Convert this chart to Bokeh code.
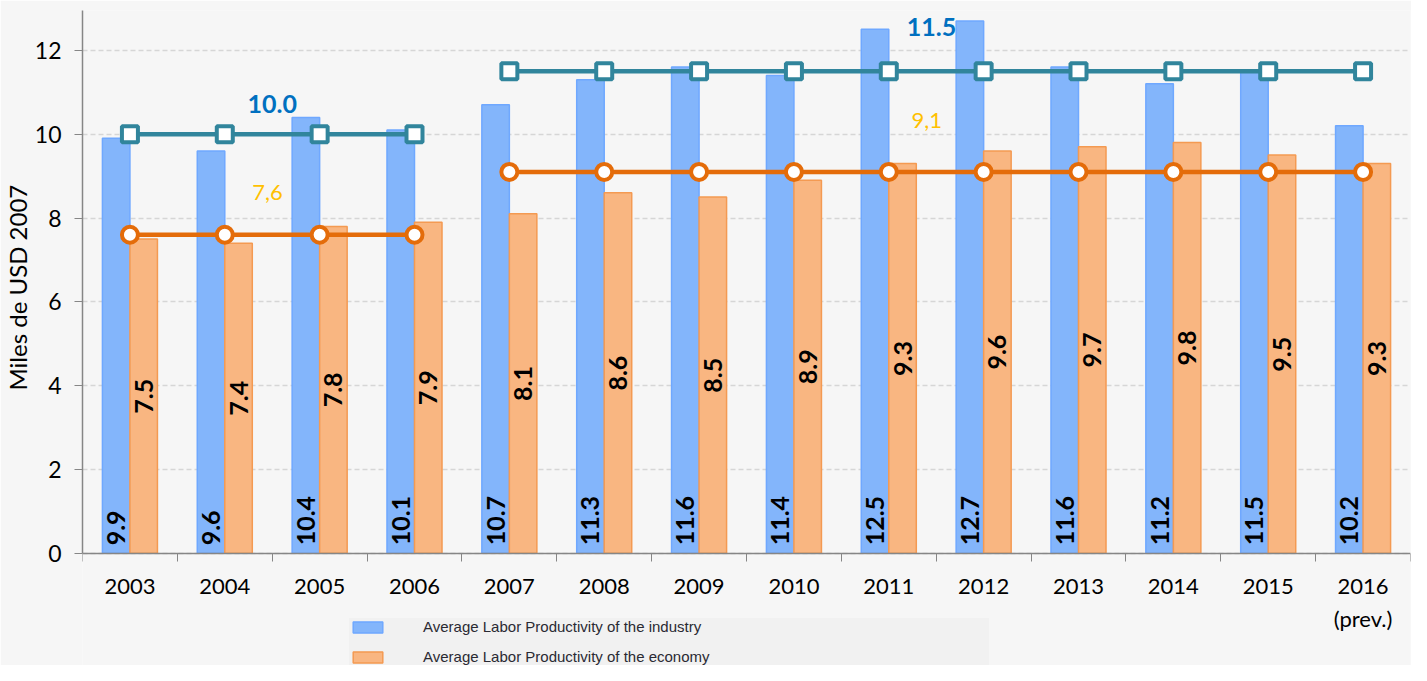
from bokeh.plotting import figure
from bokeh.models import (ColumnDataSource, FixedTicker, Legend, LegendItem, Range1d, Title)
from bokeh.core.properties import value
from bokeh.embed import file_html
from bokeh.resources import INLINE
import math

# ---------------- data ----------------
years = ["2003", "2004", "2005", "2006", "2007", "2008", "2009",
         "2010", "2011", "2012", "2013", "2014", "2015", "2016"]
year_labels = ["2003", "2004", "2005", "2006", "2007", "2008", "2009",
               "2010", "2011", "2012", "2013", "2014", "2015", "2016\n(prev.)"]
industry = [9.9, 9.6, 10.4, 10.1, 10.7, 11.3, 11.6, 11.4, 12.5, 12.7, 11.6, 11.2, 11.5, 10.2]
economy = [7.5, 7.4, 7.8, 7.9, 8.1, 8.6, 8.5, 8.9, 9.3, 9.6, 9.7, 9.8, 9.5, 9.3]

# period averages
period1_years = ["2003", "2004", "2005", "2006"]
period2_years = ["2007", "2008", "2009", "2010", "2011", "2012", "2013",
                 "2014", "2015", "2016"]
industry_avg_p1 = [10.0, 10.0, 10.0, 10.0]
industry_avg_p2 = [11.5, 11.5, 11.5, 11.5, 11.5, 11.5, 11.5, 11.5, 11.5, 11.5]
economy_avg_p1 = [7.6, 7.6, 7.6, 7.6]
economy_avg_p2 = [9.1, 9.1, 9.1, 9.1, 9.1, 9.1, 9.1, 9.1, 9.1, 9.1]
avg_labels_industry = ["10.0", "11.5"]
avg_labels_economy = ["7,6", "9,1"]

series_names = ["Average Labor Productivity of the industry",
                "Average Labor Productivity of the economy"]
y_title = "Miles de USD 2007"

# ---------------- layout helpers ----------------
idx = {y: i for i, y in enumerate(years)}
xs = list(range(len(years)))
off = 0.145
bw = 0.29
Y_TOP = 12.95
Y_BOTTOM = -2.675   # space under the axis for tick labels and legend

TEAL = "#31859C"
ORANGE = "#E46C0A"
FONT = "Lato"

p = figure(width=1411, height=665, output_backend="svg", toolbar_location=None,
           x_range=Range1d(-0.5, 13.5), y_range=Range1d(Y_BOTTOM, Y_TOP),
           min_border_left=82, min_border_right=1, min_border_top=10,
           min_border_bottom=0)
p.background_fill_color = "#F6F6F6"
p.border_fill_color = "#F6F6F6"
p.outline_line_color = None

# bars
src_i = ColumnDataSource(dict(x=[i - off for i in xs], top=industry,
                              lab=[f"{v:.1f}" for v in industry]))
src_e = ColumnDataSource(dict(x=[i + off for i in xs], top=economy,
                              mid=[v / 2 for v in economy],
                              lab=[f"{v:.1f}" for v in economy]))

r_ind = p.vbar(x="x", top="top", bottom=0, width=bw, source=src_i,
               fill_color="#83B5FB", line_color="#6FA8FF", line_width=1.5)
r_eco = p.vbar(x="x", top="top", bottom=0, width=bw, source=src_e,
               fill_color="#F9B681", line_color="#F49A52", line_width=1.5)

# bar value labels (rotated)
p.text(x="x", y=0, text="lab", source=src_i, angle=math.pi / 2,
       text_align="left", text_baseline="middle", y_offset=-8,
       text_font=value(FONT), text_font_style="bold", text_font_size="25px",
       text_color="#000000")
p.text(x="x", y="mid", text="lab", source=src_e, angle=math.pi / 2,
       text_align="center", text_baseline="middle",
       text_font=value(FONT), text_font_style="bold", text_font_size="25px",
       text_color="#000000")

# average lines
for yrs, vals, color, marker in [
        (period1_years, industry_avg_p1, TEAL, "square"),
        (period2_years, industry_avg_p2, TEAL, "square"),
        (period1_years, economy_avg_p1, ORANGE, "circle"),
        (period2_years, economy_avg_p2, ORANGE, "circle")]:
    px = [idx[y] for y in yrs]
    p.line(px, vals, line_color=color, line_width=4.5)
    p.scatter(px, vals, marker=marker, size=16, fill_color="white",
              line_color=color, line_width=4)

# average annotations
lab_x_i = [1.5, 8.45]
lab_y_i = [industry_avg_p1[0] + 0.72, industry_avg_p2[0] + 1.05]
p.text(x=lab_x_i, y=lab_y_i, text=avg_labels_industry, text_align="center",
       text_baseline="middle", text_font=value(FONT), text_font_style="bold",
       text_font_size="25px", text_color="#0070C0")
lab_x_e = [1.45, 8.4]
lab_y_e = [economy_avg_p1[0] + 1.0, economy_avg_p2[0] + 1.22]
p.text(x=lab_x_e, y=lab_y_e, text=avg_labels_economy, text_align="center",
       text_baseline="middle", text_font=value(FONT),
       text_font_size="22px", text_color="#FFC000")

# axes
p.xaxis.fixed_location = 0
p.xaxis.ticker = FixedTicker(ticks=xs, minor_ticks=[i - 0.5 for i in range(15)])
p.xaxis.major_label_overrides = {i: lab for i, lab in enumerate(year_labels)}
p.xaxis.major_tick_out = 0
p.xaxis.major_tick_in = 0
p.xaxis.minor_tick_out = 8
p.xaxis.minor_tick_in = 0
p.xaxis.minor_tick_line_color = "#868686"
p.xaxis.axis_line_color = "#868686"
p.xaxis.axis_line_width = 1.5
p.xaxis.major_label_standoff = 11
p.xaxis.major_label_text_font = FONT
p.xaxis.major_label_text_font_size = "22px"
p.xaxis.major_label_text_color = "#000000"

p.yaxis.bounds = (0, Y_TOP)
p.yaxis.ticker = FixedTicker(ticks=[0, 2, 4, 6, 8, 10, 12])
p.yaxis.major_tick_out = 8
p.yaxis.major_tick_in = 0
p.yaxis.minor_tick_out = 0
p.yaxis.minor_tick_in = 0
p.yaxis.axis_line_color = "#868686"
p.yaxis.axis_line_width = 1.5
p.yaxis.major_tick_line_color = "#868686"
p.yaxis.major_label_standoff = 13
p.yaxis.major_label_text_font = FONT
p.yaxis.major_label_text_font_size = "23px"
p.yaxis.major_label_text_color = "#000000"

# y axis title, aligned with the visible part of the axis (0 .. top)
p.add_layout(Title(text=y_title, align="left", offset=275, standoff=0,
                   text_font=FONT, text_font_style="normal",
                   text_font_size="24px", text_color="#000000"), "left")

p.xgrid.grid_line_color = None
p.ygrid.grid_line_color = "#D6D6D6"
p.ygrid.grid_line_dash = "5 3"
p.ygrid.grid_line_width = 1.5

# legend (inside the frame, under the x axis)
legend = Legend(items=[LegendItem(label=series_names[0], renderers=[r_ind]),
                       LegendItem(label=series_names[1], renderers=[r_eco])],
                location=(267, 0), orientation="vertical", margin=0,
                background_fill_color="#F1F1F1", background_fill_alpha=1,
                border_line_color=None, padding=3, spacing=13,
                glyph_width=37, glyph_height=14, label_standoff=37,
                label_width=566, label_height=16,
                label_text_font="Liberation Sans", label_text_font_size="15px",
                label_text_color="#2A2A33")
p.add_layout(legend, "center")

open("out.html", "w").write(file_html(p, INLINE))
